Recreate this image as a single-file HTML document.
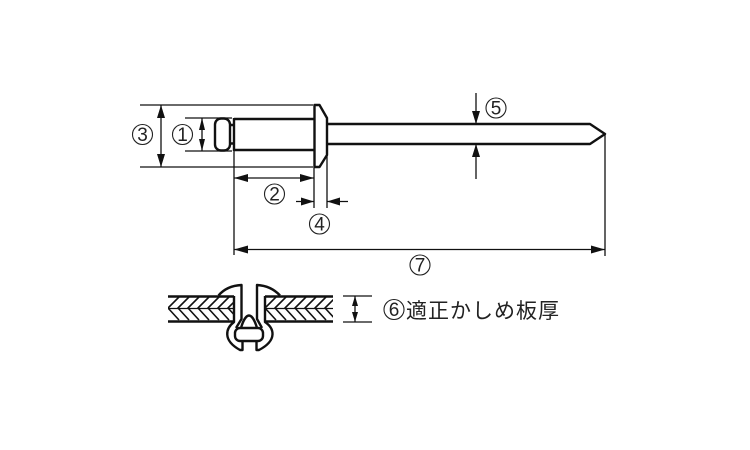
<!DOCTYPE html>
<html><head><meta charset="utf-8"><style>
html,body{margin:0;padding:0;background:#fff;width:750px;height:450px;overflow:hidden}
svg{display:block}
text{font-family:"Liberation Sans","Noto Sans CJK JP",sans-serif;fill:#222}
</style></head><body>
<svg width="750" height="450" viewBox="0 0 750 450" xmlns="http://www.w3.org/2000/svg">
<defs><clipPath id="cl"><rect x="168" y="297" width="66" height="24"/></clipPath>
<clipPath id="cr"><rect x="265" y="297" width="68" height="24"/></clipPath></defs>
<g fill="none" stroke="#111" stroke-linecap="butt" stroke-linejoin="round">
<!-- thin dimension lines -->
<g stroke-width="1.3">
<path d="M140 105H313M140 167H313M185 118H232M185 151H232"/>
<path d="M161 105V167M202 118V151M234 151V255M314 167V208M327 155V208M605 134V256"/>
<path d="M234 178H314M296 201.5H314M327 201.5H348M234 249.500H605M476 93V124M476 144V179"/>
<path d="M343 296H372M343 322H372M355 296V322"/>
</g>
<!-- rivet -->
<g stroke-width="2.4">
<path d="M234 119H314M234 150H314"/>
<path d="M234 118V151" />
<rect x="215" y="118.500" width="15" height="32" rx="6"/>
<path d="M230 125H234M230 143.500H234"/>
<path d="M314.500 105H319.500L327 118V155L319.500 167H314.500Z"/>
<path d="M327 124H590L605 134L590 144H327"/>
</g>
<!-- section plates -->
<g stroke-width="2.4">
<path d="M168 296.500H234M168 321.500H234M265 296.500H333M265 321.500H333"/>
</g>
<path d="M168 308.500H234M265 308.500H333" stroke-width="1.2"/>
<g clip-path="url(#cl)" stroke-width="1.6">
<path d="M179 297L168 308L179 320M189 297L178 308L189 320M199 297L188 308L199 320M209 297L198 308L209 320M219 297L208 308L219 320M229 297L218 308L229 320M239 297L228 308L239 320"/>
</g>
<g clip-path="url(#cr)" stroke-width="1.6">
<path d="M276 297L265 308L276 320M286 297L275 308L286 320M296 297L285 308L296 320M306 297L295 308L306 320M316 297L305 308L316 320M326 297L315 308L326 320M336 297L325 308L336 320"/>
</g>
<!-- section rivet -->
<g stroke-width="2.4">
<path d="M218.500 295.500C224 289 232 285.500 241.500 285V319L236 328"/>
<path d="M280 295.500C274 289 266 285.500 257 285V319L262 328"/>
<path d="M234 296V322C226 328 222 340 240 350H242.500V341"/>
<path d="M265 296V322C274 328 278 340 259 350H256.500V341"/>
<rect x="235" y="328" width="28" height="13" rx="5" fill="#fff"/>
<path d="M241 328C243 321 246 315.500 249 315.500C252 315.500 255 321 257 328"/>
</g>
</g>
<!-- arrowheads -->
<g fill="#111">
<path d="M161 105l-4 13h8zM161 167l-4 -13h8z"/>
<path d="M202 118l-3 12h6zM202 151l-3 -12h6z"/>
<path d="M234 178l14 -4v8zM314 178l-14 -4v8z"/>
<path d="M314 201.500l-13 -4v8zM327 201.500l13 -4v8z"/>
<path d="M476 124l-4 -13h8zM476 144l-4 13h8z"/>
<path d="M234 249.500l14 -4v8zM605 249.500l-14 -4v8z"/>
<path d="M355 296l-3 10h6zM355 322l-3 -10h6z"/>
</g>
<g fill="none" stroke="#222" stroke-width="1.1">
<circle cx="142.500" cy="134.500" r="10"/>
<circle cx="182.500" cy="134.500" r="10"/>
<circle cx="274.500" cy="194" r="10"/>
<circle cx="319.500" cy="224" r="10"/>
<circle cx="496" cy="108" r="10"/>
<circle cx="420" cy="265" r="10"/>
<circle cx="394" cy="309.500" r="10"/>
</g>
<g font-size="19" text-anchor="middle">
<text x="142.500" y="141">3</text>
<text x="182.500" y="141">1</text>
<text x="274.500" y="200.500">2</text>
<text x="319.500" y="230.500">4</text>
<text x="496" y="114.500">5</text>
<text x="420" y="271.500">7</text>
<text x="394" y="316">6</text>
</g>
<text x="406" y="318" font-size="21" letter-spacing="1">適正かしめ板厚</text>
</svg>
</body></html>
